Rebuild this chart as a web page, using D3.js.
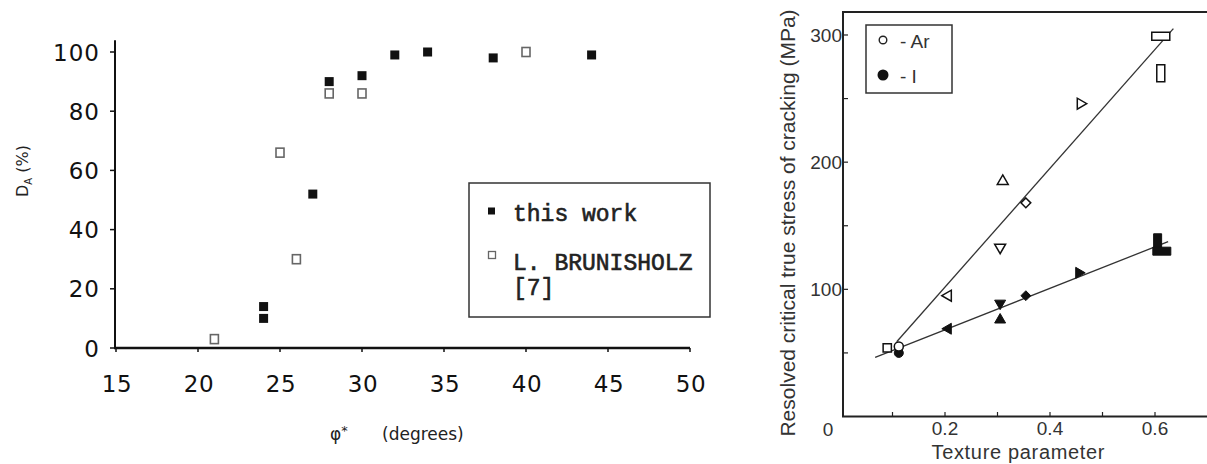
<!DOCTYPE html>
<html><head><meta charset="utf-8">
<script src="https://cdn.jsdelivr.net/npm/d3@7"></script>
<style>body{margin:0;background:#fff}svg{display:block}</style>
</head><body>
<svg id="c" width="1207" height="464"></svg>
<script>
// ---- Left panel data ----
const phiThisWork = [24, 24, 27, 28, 30, 32, 34, 38, 44];
const daThisWork  = [14, 10, 52, 90, 92, 99, 100, 98, 99];
const phiBrunisholz = [21, 25, 26, 28, 30, 40];
const daBrunisholz  = [3, 66, 30, 86, 86, 100];
const leftXTicks = [15, 20, 25, 30, 35, 40, 45, 50];
const leftYTicks = [0, 20, 40, 60, 80, 100];
const leftLegend = ["this work", "L. BRUNISHOLZ", "[7]"];

// ---- Right panel data ----
const arTexture = [0.09, 0.112, 0.206, 0.31, 0.305, 0.354, 0.458, 0.611, 0.611];
const arStress  = [54, 55, 95, 185, 133, 168, 246, 299, 270];
const arShape   = ["square", "circle", "triLeft", "triUp", "triDown", "diamond", "triRight", "rectWide", "rectTall"];
const iTexture = [0.112, 0.206, 0.305, 0.305, 0.354, 0.455, 0.605, 0.613];
const iStress  = [50, 69, 89, 76, 95, 113, 137, 130];
const iShape   = ["circle", "triLeft", "triDown", "triUp", "diamond", "triRight", "rectTall", "rectWide"];
const arFitX = [0.108, 0.635], arFitY = [58.8, 305];
const iFitX  = [0.067, 0.625], iFitY  = [46.5, 137.5];
const rightXTicks = [0.2, 0.4, 0.6];
const rightXMinor = [0.1, 0.2, 0.3, 0.4, 0.5, 0.6];
const rightYTicks = [100, 200, 300];
const rightYMinor = [50, 100, 150, 200, 250, 300];

const svg = d3.select("#c");

// ================= LEFT PANEL =================
const lx = d3.scaleLinear().domain([15, 50]).range([116, 690]);
const ly = d3.scaleLinear().domain([0, 100]).range([348, 52]);
const L = svg.append("g");

L.append("line").attr("x1", lx(15) - 1).attr("x2", lx(15) - 1).attr("y1", ly(104)).attr("y2", ly(0))
  .attr("stroke", "#111").attr("stroke-width", 2);
L.append("line").attr("x1", lx(15) - 2).attr("x2", lx(50)).attr("y1", ly(0)).attr("y2", ly(0))
  .attr("stroke", "#111").attr("stroke-width", 2.6);

L.selectAll(".ytk").data(leftYTicks).join("line")
  .attr("x1", lx(15) - 6).attr("x2", lx(15)).attr("y1", d => ly(d)).attr("y2", d => ly(d))
  .attr("stroke", "#111").attr("stroke-width", 1.5);
L.selectAll(".xtk").data(leftXTicks).join("line")
  .attr("x1", d => lx(d)).attr("x2", d => lx(d)).attr("y1", ly(0)).attr("y2", ly(0) + 4)
  .attr("stroke", "#111").attr("stroke-width", 1.5);

L.selectAll(".ylab").data(leftYTicks).join("text")
  .attr("x", 100).attr("y", d => ly(d) + 8.5).attr("text-anchor", "end")
  .attr("font-family", "DejaVu Sans").attr("font-size", 23).attr("fill", "#111")
  .attr("letter-spacing", 1).text(d => d);
L.selectAll(".xlab").data(leftXTicks).join("text")
  .attr("x", d => lx(d) + 1).attr("y", 392).attr("text-anchor", "middle")
  .attr("font-family", "DejaVu Sans").attr("font-size", 23).attr("fill", "#111")
  .attr("letter-spacing", 0.5).text(d => d);

const yt = L.append("text").attr("transform", "translate(28,171) rotate(-90)")
  .attr("text-anchor", "middle").attr("font-family", "DejaVu Sans").attr("font-size", 16).attr("fill", "#222");
yt.append("tspan").text("D");
yt.append("tspan").attr("font-size", 10).attr("dy", 4).text("A");
yt.append("tspan").attr("dy", -4).text(" (%)");

const xt = L.append("text").attr("x", 330).attr("y", 440)
  .attr("font-family", "DejaVu Sans").attr("font-size", 17).attr("fill", "#222");
xt.append("tspan").text("φ");
xt.append("tspan").attr("dy", -5).attr("font-size", 13).text("*");
xt.append("tspan").attr("dy", 5).attr("x", 382).text("(degrees)");

L.selectAll(".bru").data(phiBrunisholz).join("rect")
  .attr("x", d => lx(d) - 4).attr("y", (d, i) => ly(daBrunisholz[i]) - 4.5)
  .attr("width", 8).attr("height", 9)
  .attr("fill", "none").attr("stroke", "#666").attr("stroke-width", 1.6);
L.selectAll(".tw").data(phiThisWork).join("rect")
  .attr("x", d => lx(d) - 4.5).attr("y", (d, i) => ly(daThisWork[i]) - 4.5)
  .attr("width", 9).attr("height", 9).attr("fill", "#111");

L.append("rect").attr("x", 469).attr("y", 183).attr("width", 241).attr("height", 134)
  .attr("fill", "#fff").attr("stroke", "#333").attr("stroke-width", 1.5);
L.append("rect").attr("x", 488).attr("y", 207.5).attr("width", 7).attr("height", 7).attr("fill", "#111");
L.append("rect").attr("x", 488.5).attr("y", 251.5).attr("width", 7).attr("height", 7)
  .attr("fill", "none").attr("stroke", "#666").attr("stroke-width", 1.3);
const legY = [221, 270, 295];
L.selectAll(".lg").data(leftLegend).join("text")
  .attr("x", 513).attr("y", (d, i) => legY[i])
  .attr("font-family", "Liberation Mono").attr("font-size", 23)
  .attr("fill", "#222").attr("stroke", "#222").attr("stroke-width", 0.6).text(d => d);

// ================= RIGHT PANEL =================
const rx = d3.scaleLinear().domain([0, 0.7]).range([840, 1207.5]);
const ry = d3.scaleLinear().domain([0, 318]).range([416.5, 12.1]);
const R = svg.append("g");

R.append("rect").attr("x", 843).attr("y", 12).attr("width", 380).attr("height", 404.5)
  .attr("fill", "none").attr("stroke", "#222").attr("stroke-width", 2);

R.selectAll(".rxt").data(rightXMinor).join("line")
  .attr("x1", d => rx(d)).attr("x2", d => rx(d)).attr("y1", 416.5).attr("y2", 412)
  .attr("stroke", "#222").attr("stroke-width", 1.2);
R.selectAll(".ryt").data(rightYMinor).join("line")
  .attr("x1", 843).attr("x2", 848).attr("y1", d => ry(d)).attr("y2", d => ry(d))
  .attr("stroke", "#222").attr("stroke-width", 1.2);

R.selectAll(".rxl").data(rightXTicks).join("text")
  .attr("x", d => rx(d)).attr("y", 435).attr("text-anchor", "middle")
  .attr("font-family", "Liberation Sans").attr("font-size", 19).attr("fill", "#333")
  .text(d => d3.format(".1f")(d));
R.selectAll(".ryl").data(rightYTicks).join("text")
  .attr("x", 842).attr("y", d => ry(d) + 7).attr("text-anchor", "end")
  .attr("font-family", "Liberation Sans").attr("font-size", 19).attr("fill", "#333")
  .text(d => d);
R.append("text").attr("x", 828).attr("y", 436).attr("text-anchor", "middle")
  .attr("font-family", "Liberation Sans").attr("font-size", 19).attr("fill", "#333").text("0");

R.append("text").attr("x", 1018).attr("y", 459).attr("text-anchor", "middle")
  .attr("font-family", "Liberation Sans").attr("font-size", 20).attr("fill", "#333")
  .attr("textLength", 173).text("Texture parameter");
R.append("text").attr("transform", "translate(795,223) rotate(-90)").attr("text-anchor", "middle")
  .attr("font-family", "Liberation Sans").attr("font-size", 21).attr("fill", "#333")
  .text("Resolved critical true stress of cracking (MPa)");

const line = d3.line().x(d => rx(d[0])).y(d => ry(d[1]));
R.append("path").attr("d", line(d3.zip(arFitX, arFitY)))
  .attr("fill", "none").attr("stroke", "#333").attr("stroke-width", 1.3);
R.append("path").attr("d", line(d3.zip(iFitX, iFitY)))
  .attr("fill", "none").attr("stroke", "#333").attr("stroke-width", 1.3);

function markerPath(shape) {
  switch (shape) {
    case "circle": return d3.symbol(d3.symbolCircle, 64)();
    case "square": return d3.symbol(d3.symbolSquare, 68)();
    case "diamond": return d3.symbol(d3.symbolDiamond2, 62)();
    case "triUp": case "triDown": case "triLeft": case "triRight":
      return d3.symbol(d3.symbolTriangle, 52)();
    case "rectWide": return "M-9,-4H9V4H-9Z";
    case "rectTall": return "M-4,-8.5H4V8.5H-4Z";
  }
}
const rot = { triUp: 0, triDown: 180, triLeft: -90, triRight: 90 };
function drawMarkers(xs, ys, shapes, filled) {
  R.selectAll(null).data(xs).join("path")
    .attr("d", (d, i) => markerPath(shapes[i]))
    .attr("transform", (d, i) => `translate(${rx(d)},${ry(ys[i])}) rotate(${rot[shapes[i]] || 0})`)
    .attr("fill", filled ? "#111" : "#fff")
    .attr("stroke", "#111").attr("stroke-width", filled ? 1 : 1.5);
}
drawMarkers(iTexture, iStress, iShape, true);
drawMarkers(arTexture, arStress, arShape, false);

R.append("rect").attr("x", 866).attr("y", 25).attr("width", 86).attr("height", 68)
  .attr("fill", "#fff").attr("stroke", "#333").attr("stroke-width", 1.5);
R.append("circle").attr("cx", 883).attr("cy", 40).attr("r", 3.8)
  .attr("fill", "#fff").attr("stroke", "#222").attr("stroke-width", 1.4);
R.append("circle").attr("cx", 883).attr("cy", 75).attr("r", 5.5).attr("fill", "#111");
R.append("text").attr("x", 900).attr("y", 48).attr("font-family", "Liberation Sans")
  .attr("font-size", 19).attr("fill", "#333").text("- Ar");
R.append("text").attr("x", 900).attr("y", 83).attr("font-family", "Liberation Sans")
  .attr("font-size", 19).attr("fill", "#333").text("- I");
</script>
</body></html>
